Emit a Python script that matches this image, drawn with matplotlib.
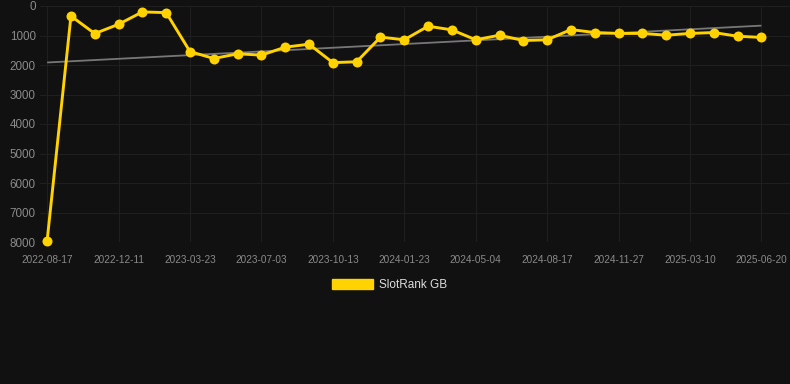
import numpy as np
import matplotlib
matplotlib.use("Agg")
import matplotlib.pyplot as plt
from matplotlib.patches import Patch

plt.rcParams['font.family'] = ['Liberation Sans', 'DejaVu Sans']

# Data (rank values, lower = better; axis inverted)
rank_values = [7950, 340, 935, 620, 200, 225, 1545, 1780, 1620, 1665, 1395,
               1295, 1920, 1890, 1055, 1145, 685, 810, 1145, 990, 1170,
               1145, 800, 900, 930, 930, 990, 930, 900, 1025, 1065]
tick_labels = ['2022-08-17', '2022-12-11', '2023-03-23', '2023-07-03',
               '2023-10-13', '2024-01-23', '2024-05-04', '2024-08-17',
               '2024-11-27', '2025-03-10', '2025-06-20']
y_ticks = [0, 1000, 2000, 3000, 4000, 5000, 6000, 7000, 8000]
series_name = 'SlotRank GB'

BG = '#111111'
GOLD = '#FFD200'
GRID = '#1f1f1f'
TXT = '#8a8a8a'

fig = plt.figure(figsize=(7.9, 3.84), dpi=100, facecolor=BG)
W, H = 790, 384
left, right, top, bottom = 40, 790, 6, 242
ax = fig.add_axes([left / W, 1 - bottom / H, (right - left) / W, (bottom - top) / H])
ax.set_facecolor(BG)

x = np.arange(len(rank_values))
y = np.array(rank_values, dtype=float)

# trend line (linear regression)
coef = np.polyfit(x, y, 1)
ax.plot(x, np.polyval(coef, x), color='#777777', lw=1.3, zorder=2, solid_capstyle='butt')

ax.plot(x, y, color=GOLD, lw=2.1, marker='o', markersize=7.2, markeredgewidth=0,
        zorder=3, clip_on=False)

step = 3
ax.set_xticks(x[::step][:len(tick_labels)])
ax.set_xticklabels(tick_labels)
ax.set_xlim(-0.3, 31.2)
ax.set_ylim(8000, 0)
ax.set_yticks(y_ticks)
ax.set_yticklabels([str(v) for v in y_ticks])

ax.grid(True, color=GRID, lw=0.8)
ax.set_axisbelow(True)
for s in ax.spines.values():
    s.set_visible(False)
ax.tick_params(axis='both', length=0, colors=TXT)
ax.tick_params(axis='y', labelsize=8.4, pad=3)
ax.tick_params(axis='x', labelsize=7.2, pad=9.2)

handle = Patch(facecolor=GOLD, edgecolor=GOLD)
leg = fig.legend([handle], [series_name], loc='center', bbox_to_anchor=(0.493, 1 - 285 / H),
                 frameon=False, fontsize=8.5, handlelength=3.5, handleheight=1.0,
                 handletextpad=0.5, labelcolor='#dddddd')

fig.savefig('out.png', dpi=100, facecolor=BG)
